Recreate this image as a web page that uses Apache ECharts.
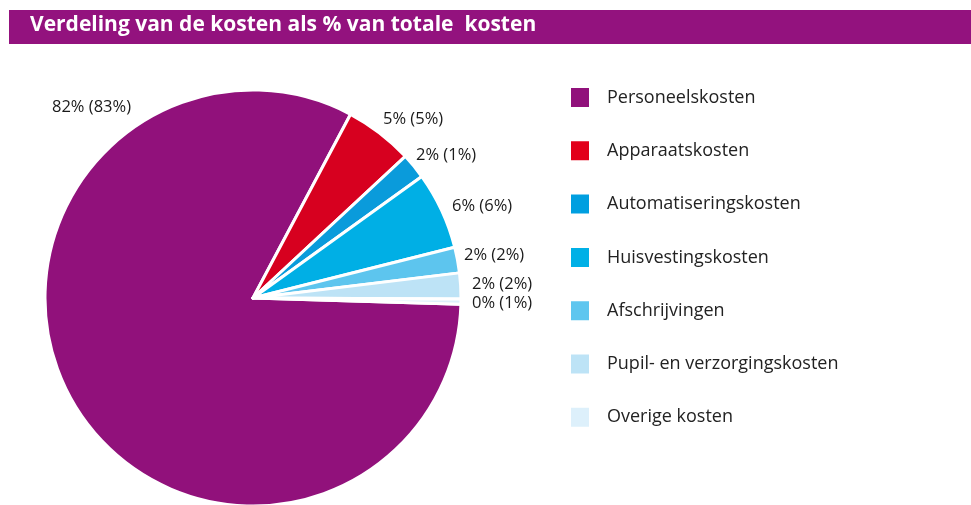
<!DOCTYPE html>
<html>
<head>
<meta charset="utf-8">
<script src="https://cdn.jsdelivr.net/npm/echarts@6/dist/echarts.min.js"></script>
<style>
  html, body { margin: 0; padding: 0; background: #fff; }
  #chart { width: 971px; height: 505px; }
</style>
</head>
<body>
<div id="chart"></div>
<script>
  // kostenposten, aandeel (geschat uit de taartpunten) en labelteksten
  const categories = ['Personeelskosten', 'Apparaatskosten', 'Automatiseringskosten', 'Huisvestingskosten',
    'Afschrijvingen', 'Pupil- en verzorgingskosten', 'Overige kosten']
  const shares = [82.3, 5.3, 2.0, 6.0, 2.0, 2.0, 0.4]
  const labelTexts = ['82% (83%)', '5% (5%)', '2% (1%)', '6% (6%)', '2% (2%)', '2% (2%)', '0% (1%)']
  const colors = ['#91117b', '#d7001f', '#0a9bdb', '#00afe5', '#5dc5ee', '#bde3f6', '#ddf0fb']
  const legendColors = ['#91117b', '#e2001a', '#009fe0', '#00b0e6', '#5ec6ef', '#bde3f6', '#ddf0fb']

  // waar de labels staan (linkerrand, midden)
  const labelSpots = [[52, 107], [383, 119], [416, 155], [452, 206], [464, 255], [472, 284], [472, 303]]

  const myChart = echarts.init(document.getElementById('chart'))
  myChart.setOption({
    animation: false,
    textStyle: {fontFamily: 'Open Sans'},
    graphic: [{
      type: 'rect',
      shape: {x: 9, y: 10, width: 962, height: 34},
      style: {fill: '#93127e'},
      z: 0
    }],
    title: {
      text: 'Verdeling van de kosten als % van totale  kosten',
      left: 30,
      top: 15,
      padding: 0,
      z: 10,
      textStyle: {color: '#fff', fontSize: 21, fontWeight: 'bold', fontFamily: 'Open Sans'}
    },
    legend: {
      orient: 'vertical',
      left: 569,
      top: 86,
      padding: 0,
      itemWidth: 20,
      itemHeight: 21,
      itemGap: 30.3,
      icon: 'rect',
      selectedMode: false,
      textStyle: {fontSize: 18, color: '#222', padding: [0, 0, 0, 12]},
      data: categories.map((c, i) => ({name: c, itemStyle: {color: legendColors[i]}}))
    },
    series: [{
      type: 'pie',
      center: [253, 298],
      radius: 208,
      startAngle: -1.7,
      clockwise: true,
      avoidLabelOverlap: false,
      itemStyle: {borderColor: '#fff', borderWidth: 3},
      label: {
        show: true,
        position: 'outside',
        fontSize: 16.5,
        color: '#1a1a1a',
        formatter: p => labelTexts[p.dataIndex]
      },
      labelLine: {show: false},
      labelLayout: p => ({
        x: labelSpots[p.dataIndex][0],
        y: labelSpots[p.dataIndex][1],
        align: 'left',
        verticalAlign: 'middle'
      }),
      emphasis: {disabled: true},
      data: categories.map((c, i) => ({name: c, value: shares[i], itemStyle: {color: colors[i]}}))
    }]
  })
</script>
</body>
</html>
